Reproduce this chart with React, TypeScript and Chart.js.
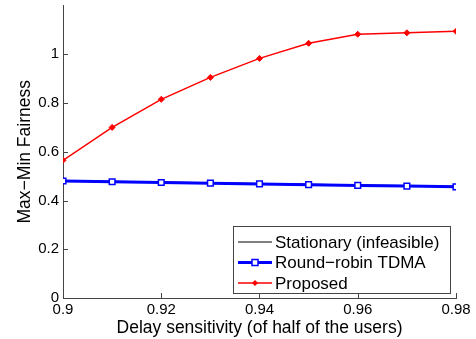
import React, { useEffect, useRef } from "react";
import { Chart, registerables } from "chart.js";

Chart.register(...registerables);

const xValues = [0.9, 0.91, 0.92, 0.93, 0.94, 0.95, 0.96, 0.97, 0.98];
const stationary = [0.482, 0.479, 0.476, 0.473, 0.47, 0.467, 0.464, 0.461, 0.458];
const roundRobin = [0.48, 0.477, 0.474, 0.471, 0.468, 0.465, 0.462, 0.459, 0.456];
const proposed = [0.565, 0.7, 0.815, 0.905, 0.983, 1.045, 1.082, 1.088, 1.094];
const yTicks = [0, 0.2, 0.4, 0.6, 0.8, 1];
const xTicks = [0.9, 0.92, 0.94, 0.96, 0.98];

const FONT = "'Liberation Sans', Arial, Helvetica, sans-serif";
const AXIS_COLOR = "#444";

const toPts = (ys: number[]) => xValues.map((x, i) => ({ x, y: ys[i] }));

const decorPlugin = {
  id: "decor",
  afterDraw(chart: any) {
    const ctx = chart.ctx;
    const xs = chart.scales.x;
    const ys = chart.scales.y;
    const area = chart.chartArea;
    ctx.save();
    ctx.strokeStyle = AXIS_COLOR;
    ctx.lineWidth = 1;
    ctx.beginPath();
    xTicks.forEach((v) => {
      const px = Math.round(xs.getPixelForValue(v)) + 0.5;
      ctx.moveTo(px, area.bottom);
      ctx.lineTo(px, area.bottom - 5);
    });
    yTicks.forEach((v) => {
      const py = Math.round(ys.getPixelForValue(v)) + 0.5;
      ctx.moveTo(area.left, py);
      ctx.lineTo(area.left + 5, py);
    });
    ctx.stroke();

    // legend
    const bx = 233.5, by = 226.5, bw = 217, bh = 67;
    ctx.fillStyle = "#fff";
    ctx.fillRect(bx, by, bw, bh);
    ctx.strokeStyle = AXIS_COLOR;
    ctx.lineWidth = 1;
    ctx.strokeRect(bx, by, bw, bh);
    const rows = chart.data.datasets;
    ctx.font = `17px ${FONT}`;
    ctx.textBaseline = "middle";
    ctx.textAlign = "left";
    rows.forEach((ds: any, i: number) => {
      const yy = 242 + i * 20.5;
      const x0 = 238, x1 = 272;
      ctx.strokeStyle = ds.borderColor;
      ctx.lineWidth = ds.borderWidth;
      ctx.beginPath();
      ctx.moveTo(x0, yy);
      ctx.lineTo(x1, yy);
      ctx.stroke();
      const cx = (x0 + x1) / 2;
      if (ds.pointStyle === "rect") {
        ctx.fillStyle = "#fff";
        ctx.lineWidth = 1.5;
        ctx.fillRect(cx - 3, yy - 3, 6, 6);
        ctx.strokeRect(cx - 3, yy - 3, 6, 6);
      } else if (ds.pointStyle === "rectRot") {
        ctx.fillStyle = ds.borderColor;
        ctx.beginPath();
        ctx.moveTo(cx, yy - 3);
        ctx.lineTo(cx + 3, yy);
        ctx.lineTo(cx, yy + 3);
        ctx.lineTo(cx - 3, yy);
        ctx.closePath();
        ctx.fill();
      }
      ctx.fillStyle = "#000";
      ctx.fillText(ds.label, 275, yy + 1);
    });
    ctx.restore();
  },
};

export default function App() {
  const ref = useRef<HTMLCanvasElement>(null);
  useEffect(() => {
    document.body.style.margin = "0";
    const chart = new Chart(ref.current!, {
      type: "line",
      data: {
        datasets: [
          {
            label: "Stationary (infeasible)",
            data: toPts(stationary),
            borderColor: "#000",
            borderWidth: 1,
            pointRadius: 0,
            order: 3,
          },
          {
            label: "Round\u2212robin TDMA",
            data: toPts(roundRobin),
            borderColor: "#0000ff",
            backgroundColor: "#fff",
            borderWidth: 3,
            pointStyle: "rect",
            pointRadius: 4,
            pointBorderWidth: 1.5,
            order: 2,
          },
          {
            label: "Proposed",
            data: toPts(proposed),
            borderColor: "#ff0000",
            backgroundColor: "#ff0000",
            borderWidth: 1.5,
            pointStyle: "rectRot",
            pointRadius: 3,
            pointBorderWidth: 1,
            order: 1,
          },
        ] as any,
      },
      options: {
        animation: false,
        responsive: false,
        devicePixelRatio: 1,
        layout: { padding: { top: 5, right: 20, left: 0, bottom: 0 } },
        plugins: { legend: { display: false }, tooltip: { enabled: false } },
        scales: {
          x: {
            type: "linear",
            min: 0.9,
            max: 0.98,
            afterBuildTicks: (s: any) => {
              s.ticks = xTicks.map((v) => ({ value: v }));
            },
            afterFit: (s: any) => {
              s.height = 41;
            },
            grid: { display: false, drawTicks: false },
            border: { display: true, color: AXIS_COLOR, width: 1 },
            ticks: {
              color: "#000",
              font: { family: FONT, size: 15 },
              padding: 3,
              callback: (v: any) => String(Number(Number(v).toFixed(2))),
            },
            title: {
              display: true,
              text: "Delay sensitivity (of half of the users)",
              color: "#000",
              font: { family: FONT, size: 17.5 },
              padding: { top: 0, bottom: 0 },
            },
          },
          y: {
            type: "linear",
            min: 0,
            max: 1.2,
            afterBuildTicks: (s: any) => {
              s.ticks = yTicks.map((v) => ({ value: v }));
            },
            afterFit: (s: any) => {
              s.width = 63;
              s.paddingTop = 0;
              s.paddingBottom = 0;
            },
            grid: { display: false, drawTicks: false },
            border: { display: true, color: AXIS_COLOR, width: 1 },
            ticks: {
              color: "#000",
              font: { family: FONT, size: 15 },
              padding: 4,
              callback: (v: any) => String(Number(Number(v).toFixed(2))),
            },
            title: {
              display: true,
              text: "Max\u2212Min Fairness",
              color: "#000",
              font: { family: FONT, size: 17.5 },
              padding: { top: 15, bottom: 0 },
            },
          },
        },
      },
      plugins: [decorPlugin],
    });
    return () => chart.destroy();
  }, []);
  return <canvas ref={ref} width={476} height={339} style={{ display: "block" }} />;
}
